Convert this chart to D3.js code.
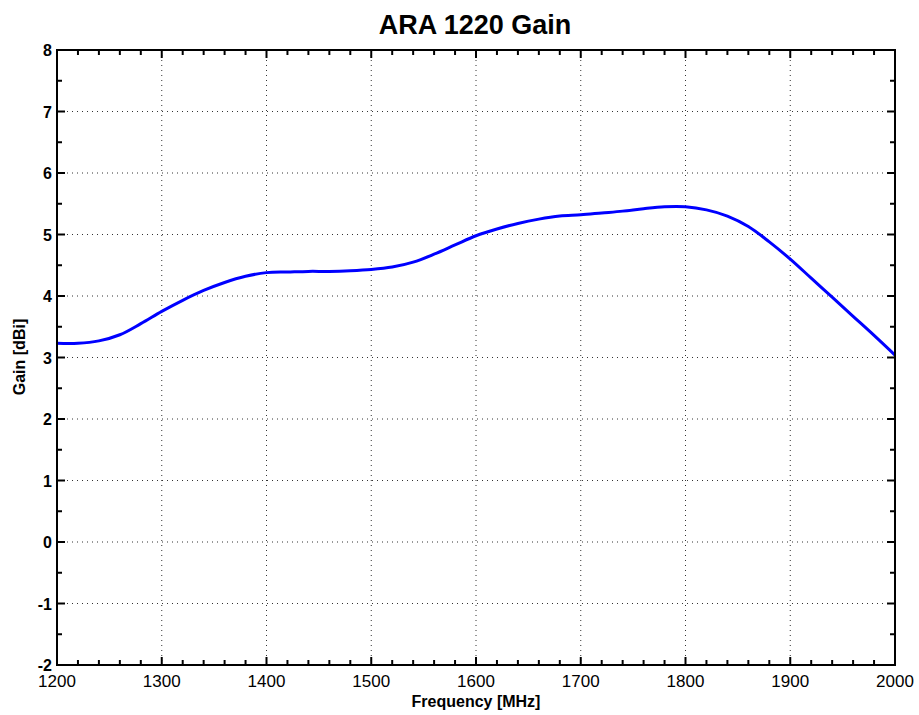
<!DOCTYPE html>
<html><head><meta charset="utf-8">
<script src="https://cdn.jsdelivr.net/npm/d3@7"></script>
<style>body{margin:0;background:#fff}svg{display:block}text{font-family:"Liberation Sans",Arial,sans-serif}</style>
</head><body>
<svg id="chart" width="919" height="715"></svg>
<script>
const freq = [1200,1220,1240,1260,1280,1300,1320,1340,1360,1380,1400,1420,1440,1460,1480,1500,1520,1540,1560,1580,1600,1620,1640,1660,1680,1700,1720,1740,1760,1780,1800,1820,1840,1860,1880,1900,1920,1940,1960,1980,2000];
const gain = [3.23,3.23,3.27,3.37,3.55,3.75,3.93,4.09,4.22,4.32,4.38,4.39,4.40,4.40,4.41,4.43,4.47,4.55,4.68,4.83,4.98,5.09,5.18,5.25,5.30,5.32,5.35,5.38,5.42,5.45,5.45,5.40,5.30,5.13,4.88,4.60,4.29,3.98,3.67,3.36,3.04];
const xTicks = [1200,1300,1400,1500,1600,1700,1800,1900,2000];
const yTicks = [-2,-1,0,1,2,3,4,5,6,7,8];
const xMinor = d3.range(1200,2001,20);
const yMinor = d3.range(-2,8.01,0.5);

const svg = d3.select("#chart");
const L=57,R=895,T=50,B=665;
const x = d3.scaleLinear().domain([1200,2000]).range([L,R]);
const y = d3.scaleLinear().domain([-2,8]).range([B,T]);

// grid
const g = svg.append("g").attr("stroke","#333").attr("stroke-width",1).attr("stroke-dasharray","1,4");
xTicks.slice(1,-1).forEach(v=>g.append("line").attr("x1",x(v)).attr("x2",x(v)).attr("y1",T).attr("y2",B));
yTicks.slice(1,-1).forEach(v=>g.append("line").attr("y1",y(v)).attr("y2",y(v)).attr("x1",L).attr("x2",R));

// curve
const line = d3.line().x((d,i)=>x(freq[i])).y(d=>y(d)).curve(d3.curveCatmullRom.alpha(0.5));
svg.append("path").attr("d",line(gain)).attr("fill","none").attr("stroke","#0000ff").attr("stroke-width",3);

// ticks (inward, all sides)
const tk = svg.append("g").attr("stroke","#000").attr("stroke-width",2);
xMinor.forEach(v=>{
  const major = xTicks.includes(v); const len = major?8:5;
  tk.append("line").attr("x1",x(v)).attr("x2",x(v)).attr("y1",B).attr("y2",B-len);
  tk.append("line").attr("x1",x(v)).attr("x2",x(v)).attr("y1",T).attr("y2",T+len);
});
yMinor.forEach(v=>{
  const major = Number.isInteger(v); const len = major?8:5;
  tk.append("line").attr("y1",y(v)).attr("y2",y(v)).attr("x1",L).attr("x2",L+len);
  tk.append("line").attr("y1",y(v)).attr("y2",y(v)).attr("x1",R).attr("x2",R-len);
});

// frame
svg.append("rect").attr("x",L).attr("y",T).attr("width",R-L).attr("height",B-T).attr("fill","none").attr("stroke","#000").attr("stroke-width",2);

// tick labels
svg.append("g").selectAll("text").data(xTicks).join("text")
  .attr("x",d=>x(d)).attr("y",B+22).attr("text-anchor","middle")
  .attr("font-size",17).text(d=>d);
svg.append("g").selectAll("text").data(yTicks).join("text")
  .attr("x",L-5).attr("y",d=>y(d)+6).attr("text-anchor","end")
  .attr("font-size",16).attr("font-weight","bold").text(d=>d);

// titles
svg.append("text").attr("x",475).attr("y",34).attr("text-anchor","middle")
  .attr("font-size",27).attr("font-weight","bold").text("ARA 1220 Gain");
svg.append("text").attr("x",476).attr("y",707).attr("text-anchor","middle")
  .attr("font-size",16).attr("font-weight","bold").text("Frequency [MHz]");
svg.append("text").attr("transform","translate(25,357) rotate(-90)").attr("text-anchor","middle")
  .attr("font-size",16).attr("font-weight","bold").text("Gain [dBi]");
</script>
</body></html>
